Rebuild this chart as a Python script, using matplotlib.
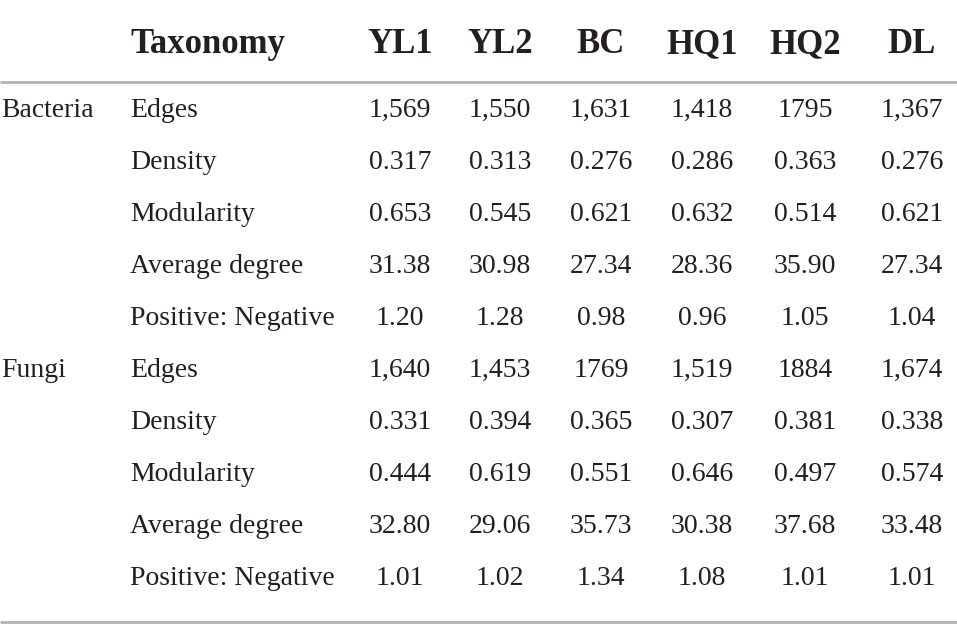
import matplotlib
matplotlib.use("Agg")
import matplotlib.pyplot as plt

columns = ["YL1", "YL2", "BC", "HQ1", "HQ2", "DL"]
groups = ["Bacteria", "Fungi"]
metrics = ["Edges", "Density", "Modularity", "Average degree", "Positive: Negative"]

bacteria = [
    ["1,569", "1,550", "1,631", "1,418", "1795", "1,367"],
    ["0.317", "0.313", "0.276", "0.286", "0.363", "0.276"],
    ["0.653", "0.545", "0.621", "0.632", "0.514", "0.621"],
    ["31.38", "30.98", "27.34", "28.36", "35.90", "27.34"],
    ["1.20", "1.28", "0.98", "0.96", "1.05", "1.04"],
]
fungi = [
    ["1,640", "1,453", "1769", "1,519", "1884", "1,674"],
    ["0.331", "0.394", "0.365", "0.307", "0.381", "0.338"],
    ["0.444", "0.619", "0.551", "0.646", "0.497", "0.574"],
    ["32.80", "29.06", "35.73", "30.38", "37.68", "33.48"],
    ["1.01", "1.02", "1.34", "1.08", "1.01", "1.01"],
]

W, H = 957, 640
fig = plt.figure(figsize=(W / 100, H / 100), dpi=100)
ax = fig.add_axes([0, 0, 1, 1])
ax.set_xlim(0, W)
ax.set_ylim(H, 0)
ax.axis("off")

FONT = "Liberation Serif"
TXT = "#231f20"
LINE = "#b3b3b3"
FS_HEAD = 25
FS_BODY = 20

col_x = [400, 500, 601, 702, 805, 912]
x_group = 1
x_metric = 130
y_header = 53
y_rows0 = 117
dy = 52

ax.text(x_metric, y_header, "Taxonomy", fontsize=FS_HEAD, fontweight="bold",
        family=FONT, color=TXT, ha="left", va="baseline")
for c, x in zip(columns, col_x):
    ax.text(x, y_header, c, fontsize=FS_HEAD, fontweight="bold", family=FONT,
            color=TXT, ha="center", va="baseline")

ax.plot([0, W], [82, 82], color=LINE, lw=2, solid_capstyle="butt")
ax.plot([0, W], [622, 622], color=LINE, lw=2, solid_capstyle="butt")

row = 0
for g, block in zip(groups, [bacteria, fungi]):
    for i, (m, vals) in enumerate(zip(metrics, block)):
        y = y_rows0 + row * dy
        if i == 0:
            ax.text(x_group, y, g, fontsize=FS_BODY, family=FONT, color=TXT,
                    ha="left", va="baseline")
        ax.text(x_metric, y, m, fontsize=FS_BODY, family=FONT, color=TXT,
                ha="left", va="baseline")
        for v, x in zip(vals, col_x):
            ax.text(x, y, v, fontsize=FS_BODY, family=FONT, color=TXT,
                    ha="center", va="baseline")
        row += 1

fig.savefig("out.png", dpi=100, facecolor="white")
